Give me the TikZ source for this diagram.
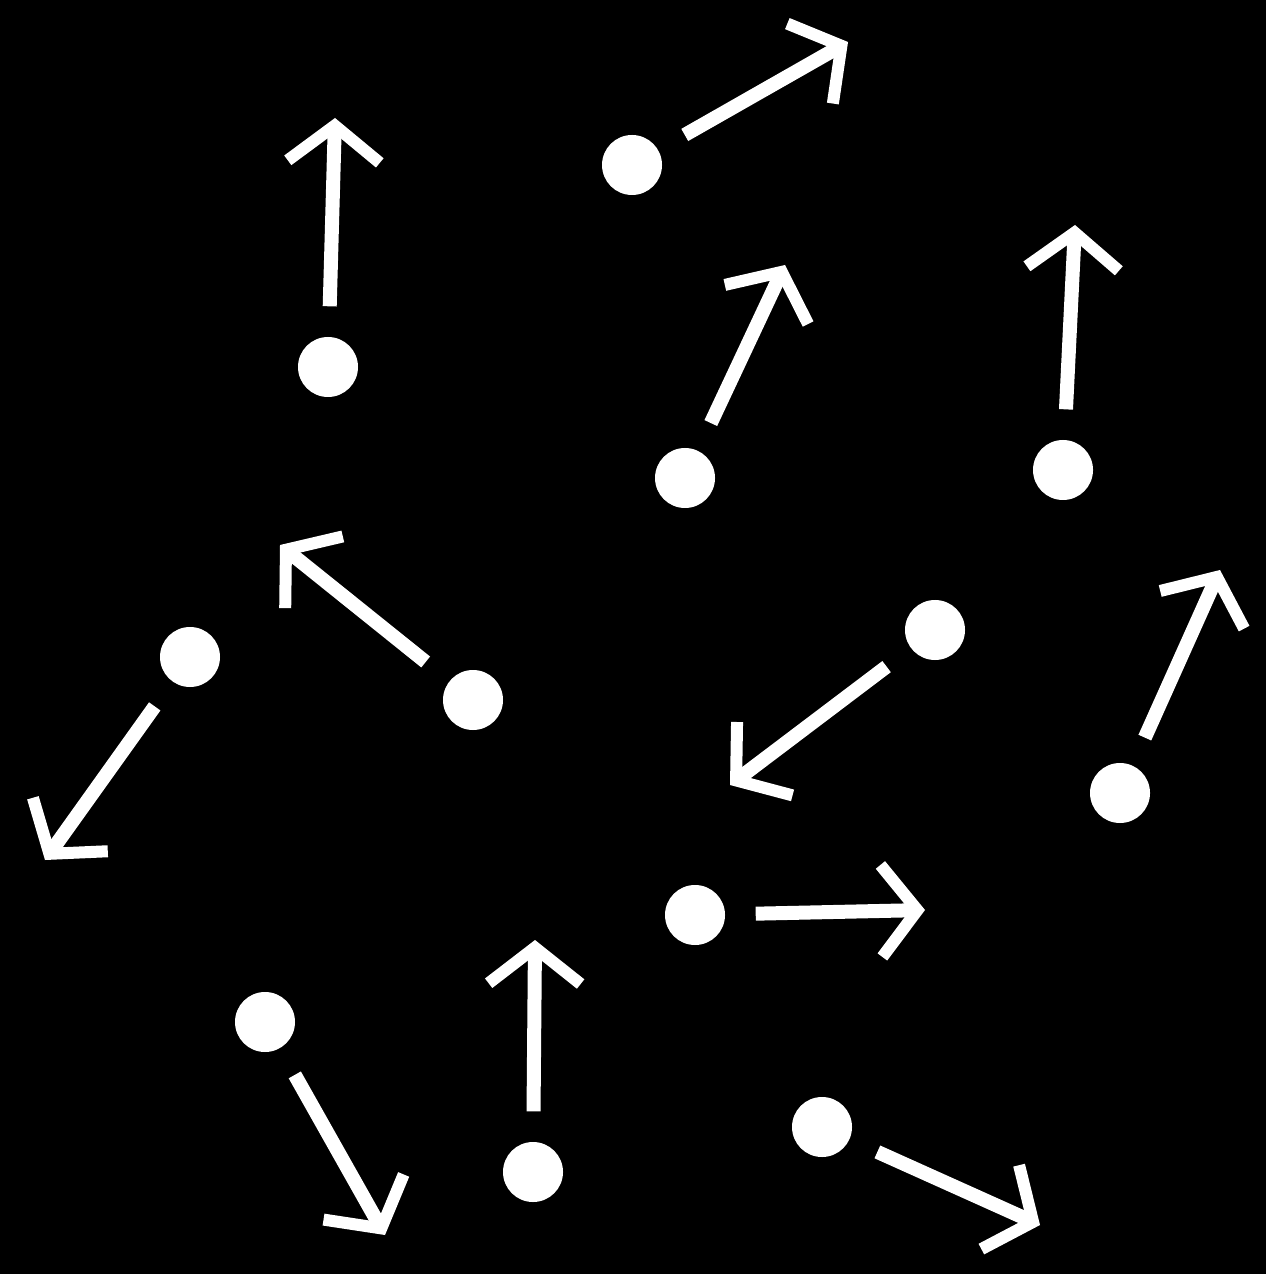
\documentclass[tikz,border=0pt]{standalone}
\usetikzlibrary{arrows.meta}

\begin{document}
\begin{tikzpicture}[
        x=1cm, y=1cm,
        spin dot/.style={draw=none, fill=white, shape=circle, minimum size=0.6cm, inner sep=0pt},
        spin vec/.style={white, line width=0.14cm, shorten <=0.3cm,
            -{Straight Barb[length=0.36cm, width=0.92cm, line width=0.12cm]}}
    ]
    % black page, fixes the margins too
    \fill[black] (0,0) rectangle (12.66,-12.74);
    \useasboundingbox (0,0) rectangle (12.66,-12.74);

    %% ---- the dots -------------------------------------------------------
    \node[spin dot] (d1)  at (3.28,-3.67)  {};
    \node[spin dot] (d2)  at (6.32,-1.65)  {};
    \node[spin dot] (d3)  at (6.85,-4.78)  {};
    \node[spin dot] (d4)  at (10.63,-4.70) {};
    \node[spin dot] (d5)  at (1.90,-6.57)  {};
    \node[spin dot] (d6)  at (4.73,-7.00)  {};
    \node[spin dot] (d7)  at (9.35,-6.30)  {};
    \node[spin dot] (d8)  at (11.20,-7.93) {};
    \node[spin dot] (d9)  at (6.95,-9.15)  {};
    \node[spin dot] (d10) at (2.65,-10.22) {};
    \node[spin dot] (d11) at (5.33,-11.72) {};
    \node[spin dot] (d12) at (8.22,-11.27) {};

    %% ---- arrow tips -----------------------------------------------------
    \coordinate (t1)  at (3.35,-1.18);
    \coordinate (t2)  at (8.48,-0.42);
    \coordinate (t3)  at (7.85,-2.65);
    \coordinate (t4)  at (10.75,-2.25);
    \coordinate (t5)  at (0.45,-8.60);
    \coordinate (t6)  at (2.80,-5.45);
    \coordinate (t7)  at (7.30,-7.85);
    \coordinate (t8)  at (12.20,-5.70);
    \coordinate (t9)  at (9.25,-9.10);
    \coordinate (t10) at (3.85,-12.35);
    \coordinate (t11) at (5.35,-9.40);
    \coordinate (t12) at (10.40,-12.25);

    %% ---- the vectors ----------------------------------------------------
    \foreach \i in {1,...,12}
        \draw[spin vec] (d\i) -- (t\i);
\end{tikzpicture}
\end{document}
